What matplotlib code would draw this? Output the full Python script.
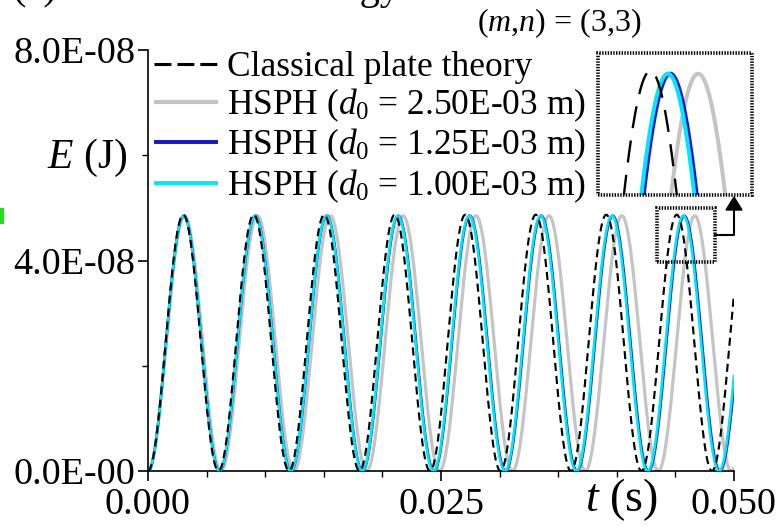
import numpy as np
import matplotlib
matplotlib.use("Agg")
import matplotlib.pyplot as plt
from matplotlib.patches import Rectangle, Polygon
from matplotlib.lines import Line2D
from matplotlib.ticker import MultipleLocator, FixedLocator, FixedFormatter

plt.rcParams["font.family"] = ["Liberation Serif", "DejaVu Serif"]
plt.rcParams["mathtext.fontset"] = "custom"
plt.rcParams["mathtext.rm"] = "Liberation Serif"
plt.rcParams["mathtext.it"] = "Liberation Serif:italic"
plt.rcParams["lines.scale_dashes"] = False

# ---- data -------------------------------------------------------------
series_labels = [
    "Classical plate theory",
    "HSPH ($d_0$ = 2.50E-03 m)",
    "HSPH ($d_0$ = 1.25E-03 m)",
    "HSPH ($d_0$ = 1.00E-03 m)",
]
series_colors = ["#000000", "#c4c4c4", "#1414d8", "#00e8f8"]
peak_energy = [4.87e-8, 4.85e-8, 4.85e-8, 4.85e-8]          # J
energy_period = [0.006015, 0.00622, 0.00610, 0.00609]          # s
t_end = 0.05

x_ticks = [0.0, 0.025, 0.05]
x_tick_labels = ["0.000", "0.025", "0.050"]
y_ticks = [0.0, 4e-8, 8e-8]
y_tick_labels = ["0.0E-00", "4.0E-08", "8.0E-08"]

zoom_t = (0.04343, 0.04838)
zoom_e = (3.97e-8, 5.00e-8)

# ---- figure -----------------------------------------------------------
W, H = 780, 526
fig = plt.figure(figsize=(W / 100, H / 100), dpi=100)


def fx(px):
    return px / W


def fy(py):
    return 1 - py / H


ax = fig.add_axes([fx(148), fy(471), fx(734) - fx(148), fy(50) - fy(471)])

t = np.linspace(0, t_end, 3001)
curves = [pk * np.sin(np.pi * t / T) ** 2 for pk, T in zip(peak_energy, energy_period)]

main_styles = [
    dict(lw=1.55, dashes=(5.8, 3.6), zorder=5),
    dict(lw=2.3, zorder=2),
    dict(lw=1.9, zorder=3),
    dict(lw=1.9, zorder=4),
]
lines = []
for E, c, lab, st in zip(curves, series_colors, series_labels, main_styles):
    ln, = ax.plot(t, E, color=c, label=lab, solid_capstyle="butt", **st)
    lines.append(ln)

ax.set_xlim(0, t_end)
ax.set_ylim(0, 8e-8)
ax.xaxis.set_major_locator(FixedLocator(x_ticks))
ax.xaxis.set_major_formatter(FixedFormatter(x_tick_labels))
ax.xaxis.set_minor_locator(MultipleLocator(0.005))
ax.yaxis.set_major_locator(FixedLocator(y_ticks))
ax.yaxis.set_major_formatter(FixedFormatter(y_tick_labels))
ax.yaxis.set_minor_locator(MultipleLocator(2e-8))
for s in ["top", "right"]:
    ax.spines[s].set_visible(False)
for s in ["left", "bottom"]:
    ax.spines[s].set_linewidth(1.2)
ax.tick_params(which="major", direction="out", length=7, width=1.2,
               labelsize=27.5)
ax.tick_params(axis="x", which="major", pad=5)
ax.tick_params(axis="y", which="major", pad=2)
ax.tick_params(which="minor", direction="out", length=4, width=1.0)
ax.yaxis.get_offset_text().set_visible(False)

# axis titles
fig.text(fx(87), fy(158), "$E$ (J)", fontsize=30, ha="center", va="center")
fig.text(fx(621), fy(500), "$t$ (s)", fontsize=33, ha="center", va="center")
fig.text(fx(559), fy(23), "($m$,$n$) = (3,3)", fontsize=23, ha="center", va="center")

# panel heading running off the top edge
fig.text(fx(12), fy(-1), "(c)", fontsize=29, ha="left", va="baseline")
fig.text(fx(400), fy(-1), "Total energy", fontsize=29, ha="right", va="baseline")

# legend
leg = ax.legend(loc="upper left", bbox_to_anchor=(fx(154), fy(51)),
                bbox_transform=fig.transFigure, frameon=False, fontsize=25.5,
                handlelength=1.8, handletextpad=0.25, labelspacing=0.08,
                borderpad=0, borderaxespad=0)
leg_lw = [2.2, 3.0, 2.8, 2.8]
for hl, lw in zip(leg.get_lines(), leg_lw):
    hl.set_linewidth(lw)
leg.get_lines()[0].set_dashes((12.2, 4.3))

# zoom window on the main axes
ax.add_patch(Rectangle((zoom_t[0], zoom_e[0]), zoom_t[1] - zoom_t[0],
                       zoom_e[1] - zoom_e[0], fill=False, lw=2.6,
                       ls=(0, (1, 1)), ec="black", zorder=6))

# magnified inset
ix0, ix1, iy0, iy1 = 598, 752, 53, 195
axin = fig.add_axes([fx(ix0), fy(iy1), fx(ix1) - fx(ix0), fy(iy0) - fy(iy1)])
inset_styles = [
    dict(lw=1.7, dashes=(16, 9), zorder=5),
    dict(lw=2.9, zorder=2),
    dict(lw=2.9, zorder=3),
    dict(lw=2.9, zorder=4),
]
for E, c, st in zip(curves, series_colors, inset_styles):
    axin.plot(t, E, color=c, solid_capstyle="butt", **st)
axin.set_xlim(*zoom_t)
axin.set_ylim(*zoom_e)
axin.axis("off")
fig.patches.append(Rectangle((fx(ix0), fy(iy1)), fx(ix1) - fx(ix0),
                             fy(iy0) - fy(iy1), transform=fig.transFigure,
                             fill=False, lw=2.6, ls=(0, (1, 1)), ec="black",
                             zorder=6))

# connector arrow from the zoom window to the inset
to_fig = ax.transData + fig.transFigure.inverted()
sx, sy = to_fig.transform((zoom_t[1], 0.5 * (zoom_e[0] + zoom_e[1])))
ex = fx(734)
head_h = 15 / H
head_w = 8 / W
fig.lines.append(Line2D([sx, ex, ex], [sy, sy, fy(iy1) - head_h],
                        transform=fig.transFigure, color="black", lw=1.5))
fig.patches.append(Polygon([(ex - head_w, fy(iy1) - head_h),
                            (ex + head_w, fy(iy1) - head_h),
                            (ex, fy(iy1) - 2 / H)], closed=True,
                           transform=fig.transFigure, color="black"))

# small green marker at the left edge
fig.patches.append(Rectangle((0, fy(223)), fx(3), 15 / H,
                             transform=fig.transFigure, color="#22dd22"))

fig.savefig("out.png", dpi=100)
